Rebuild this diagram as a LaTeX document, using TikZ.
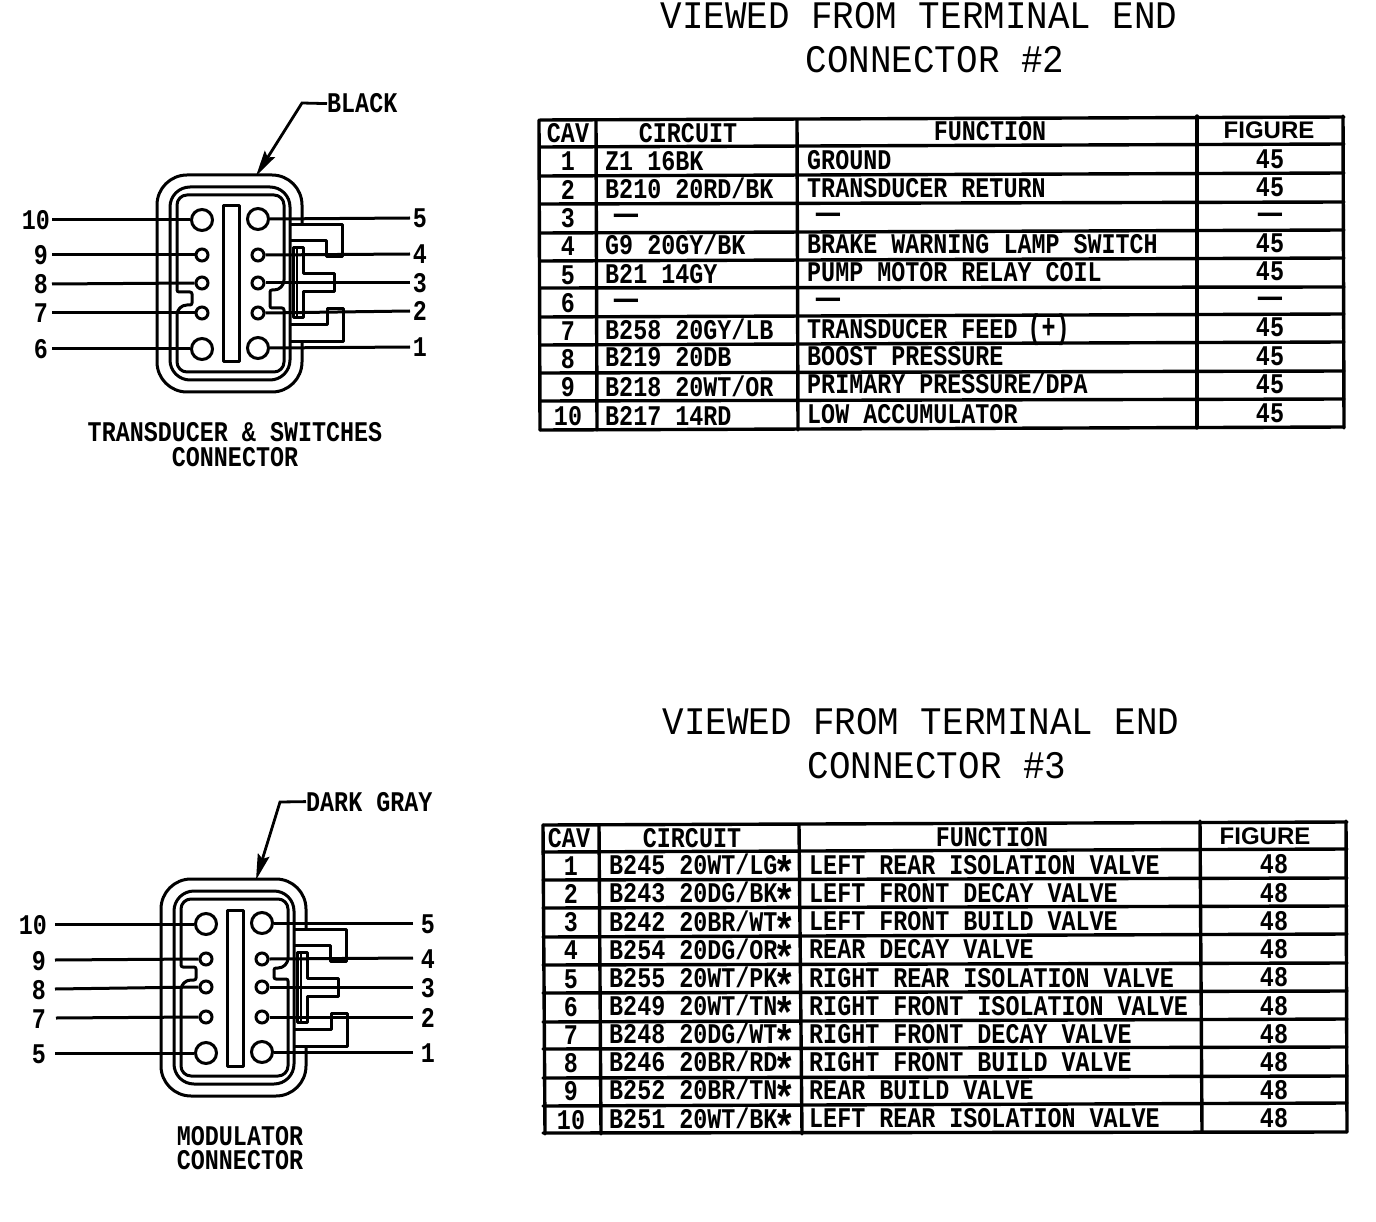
\documentclass[tikz,border=0pt]{standalone}
\usepackage{fontspec}
\usepackage{graphicx}
\usetikzlibrary{arrows.meta}
\newfontfamily\plotfam[FakeStretch=0.82]{Liberation Mono}
\newfontfamily\titlefam[FakeStretch=0.92]{Liberation Mono}
\newfontfamily\headfam{Liberation Sans}
\newcommand{\bodyfont}{\plotfam\bfseries\fontsize{28.5}{28.5}\selectfont}
\newcommand{\titlefont}{\titlefam\fontsize{39}{39}\selectfont}
\newcommand{\figfont}{\headfam\bfseries\fontsize{24}{24}\selectfont}
\newcommand{\dashmark}{\scalebox{1.7}[1.2]{—}}
\newcommand{\dashl}{\hspace*{9pt}\dashmark}
\newcommand{\st}{\makebox[14pt]{\smash{\raisebox{-0.5em}{\scalebox{1.6}{*}}}}}
\tikzset{
  wall/.style={line width=3pt,line join=round},
  tline/.style={line width=3.4pt,line cap=round},
  bodytxt/.style={font=\bodyfont,inner sep=0pt,anchor=base west},
  bodyctr/.style={font=\bodyfont,inner sep=0pt,anchor=base},
  figtxt/.style={font=\figfont,inner sep=0pt,anchor=base},
  titletxt/.style={font=\titlefont,inner sep=0pt,anchor=base},
  bigpin/.style={circle,draw,line width=3pt,minimum size=21pt,inner sep=0pt},
  smallpin/.style={circle,draw,line width=3pt,minimum size=12pt,inner sep=0pt},
  wire/.style={line width=3pt},
  lead/.style={line width=2.8pt,-{Stealth[length=26pt,width=12pt,inset=4pt]}},
}
\newcommand{\tcav}{0}\newcommand{\tcir}{0}\newcommand{\tfun}{0}\newcommand{\tfig}{0}
\newcommand{\trow}[9]{%
  \node[bodyctr] (#1cav) at (\tcav,#2+9) {#6};
  \node[bodytxt] (#1cir) at (\tcir,#3+9) {#7};
  \node[bodytxt] (#1fun) at (\tfun,#4+9) {#8};
  \node[bodyctr] (#1fig) at (\tfig,#5+10) {#9};
}
\newcommand{\connbody}[7]{%
\begin{scope}[shift={(#2,#3)}]
  \draw[wall,rounded corners=30pt] (302,224) -- (302,175) -- (157,175) -- (157,392) -- (302,392) -- (302,343);
  \draw[wall,rounded corners=20pt] (170,187) rectangle (290,380);
  \draw[wall] (177,230) [rounded corners=10pt] -- (177,195) -- (284,195) -- (284,#6) [rounded corners=2pt] -- (270,#6) -- (270,#7) -- (284,#7) [rounded corners=10pt] -- (284,372) -- (177,372) -- (177,#5) [rounded corners=2pt] -- (192,#5) -- (192,#4) -- (177,#4) [sharp corners] -- cycle;
  \draw[wall] (223,206) rectangle (239,362);
  \draw[wall] (291,225) -- (342,225) -- (342,257) -- (326,257) -- (326,241) -- (291,241);
  \draw[wall] (291,342) -- (343,342) -- (343,309) -- (327,309) -- (327,325) -- (291,325);
  \draw[wall] (293,248) -- (303,248) -- (303,274) -- (334,274) -- (334,292) -- (303,292) -- (303,318) -- (293,318) -- cycle;
  \draw[line width=2.4pt] (297,248) -- (297,318);
  \node[bigpin,fill=white] (#1p10) at (202,220) {};
  \node[smallpin,fill=white] (#1p9) at (202,255) {};
  \node[smallpin,fill=white] (#1p8) at (202,283) {};
  \node[smallpin,fill=white] (#1p7) at (202,313) {};
  \node[bigpin,fill=white] (#1p6) at (202,349) {};
  \node[bigpin,fill=white] (#1p5) at (258,219) {};
  \node[smallpin,fill=white] (#1p4) at (258,255) {};
  \node[smallpin,fill=white] (#1p3) at (258,283) {};
  \node[smallpin,fill=white] (#1p2) at (258,313) {};
  \node[bigpin,fill=white] (#1p1) at (258,348) {};
\end{scope}}
\newcommand{\pinwire}[7]{%
  \coordinate (#2e) at (#4,#5);
  \draw[wire] (#2e) -- (#1.#3);
  \node[bodyctr] (#2) at (#6,#5+10) {#7};
}
\begin{document}
\begin{tikzpicture}[x=1pt,y=-1pt]
\useasboundingbox (0,0) rectangle (1376,1222);
\fill[white] (0,0) rectangle (1376,1222);

% ===== titles =====
\node[titletxt] (t1a) at (919,29) {VIEWED FROM TERMINAL END};
\node[titletxt] (t1b) at (935,73) {CONNECTOR \#2};
\node[titletxt] (t2a) at (921,734) {VIEWED FROM TERMINAL END};
\node[titletxt] (t2b) at (937,778) {CONNECTOR \#3};

% ===== connector A =====
\connbody{a}{0}{0}{292}{305}{290}{308}
\pinwire{ap10}{al10}{west}{52}{220}{36}{10}
\pinwire{ap9}{al9}{west}{52}{255}{41}{9}
\pinwire{ap8}{al8}{west}{52}{284}{41}{8}
\pinwire{ap7}{al7}{west}{52}{313}{41}{7}
\pinwire{ap6}{al6}{west}{52}{349}{41}{6}
\pinwire{ap5}{ar5}{east}{410}{218}{420}{5}
\pinwire{ap4}{ar4}{east}{410}{254}{420}{4}
\pinwire{ap3}{ar3}{east}{410}{283}{420}{3}
\pinwire{ap2}{ar2}{east}{410}{311}{420}{2}
\pinwire{ap1}{ar1}{east}{410}{347}{420}{1}
\node[bodytxt,anchor=base west] (ablack) at (327,113) {BLACK};
\coordinate (aknee) at (302,103);
\coordinate (atip) at (256,176);
\draw[lead] (ablack.west) -- (aknee) -- (atip);
\node[bodyctr] (acap1) at (235,441) {TRANSDUCER \& SWITCHES};
\node[bodyctr] (acap2) at (235,466) {CONNECTOR};

% ===== connector B =====
\connbody{b}{4}{704}{263}{276}{264}{275}
\pinwire{bp10}{bl10}{west}{55}{924}{33}{10}
\pinwire{bp9}{bl9}{west}{55}{960}{39}{9}
\pinwire{bp8}{bl8}{west}{55}{989}{39}{8}
\pinwire{bp7}{bl7}{west}{56}{1018}{39}{7}
\pinwire{bp6}{bl5}{west}{55}{1053}{39}{5}
\pinwire{bp5}{br5}{east}{413}{923}{428}{5}
\pinwire{bp4}{br4}{east}{413}{958}{428}{4}
\pinwire{bp3}{br3}{east}{413}{987}{428}{3}
\pinwire{bp2}{br2}{east}{413}{1017}{428}{2}
\pinwire{bp1}{br1}{east}{413}{1052}{428}{1}
\node[bodytxt,anchor=base west] (bgray) at (306,811) {DARK GRAY};
\coordinate (bknee) at (280,802);
\coordinate (btip) at (256,880);
\draw[lead] (bgray.west) -- (bknee) -- (btip);
\node[bodyctr] (bcap1) at (240,1145) {MODULATOR};
\node[bodyctr] (bcap2) at (240,1169) {CONNECTOR};

% ===== table 1 grid =====
\foreach \l/\r in {120/117,147/144,176/173,204/202,233/230,261/258,288/287,317/314,345/342,373/371,401/399,430/427}
  \draw[tline] (540,\l) -- (1344,\r);
\foreach \t/\b in {539/540,596/597,797/798,1197/1197,1343/1344}
  \draw[tline] (\t,\ifdim\t pt<800pt 120\else 116\fi) -- (\b,\ifdim\t pt<800pt 430\else 428\fi);
\renewcommand{\tcav}{568}\renewcommand{\tcir}{605}\renewcommand{\tfun}{807}\renewcommand{\tfig}{1270}
\node[bodyctr] (h1cav) at (568,143) {CAV};
\node[bodyctr] (h1cir) at (688,143) {CIRCUIT};
\node[bodyctr] (h1fun) at (990,141) {FUNCTION};
\node[figtxt] (h1fig) at (1269,139) {FIGURE};
\trow{ar1}{162}{162}{161}{159}{1}{Z1 16BK}{GROUND}{45}
\trow{ar2}{191}{190}{189}{187}{2}{B210 20RD/BK}{TRANSDUCER RETURN}{45}
\trow{ar3}{219}{216}{215}{214}{3}{\dashl}{\dashl}{\dashmark}
\trow{ar4}{247}{246}{245}{243}{4}{G9 20GY/BK}{BRAKE WARNING LAMP SWITCH}{45}
\trow{ar5}{276}{275}{273}{271}{5}{B21 14GY}{PUMP MOTOR RELAY COIL}{45}
\trow{ar6}{304}{301}{300}{298}{6}{\dashl}{\dashl}{\dashmark}
\trow{ar7}{332}{331}{330}{327}{7}{B258 20GY/LB}{TRANSDUCER FEED \hspace*{-4pt}\scalebox{1}[1.2]{(+)}}{45}
\trow{ar8}{360}{358}{357}{356}{8}{B219 20DB}{BOOST PRESSURE}{45}
\trow{ar9}{388}{387}{385}{384}{9}{B218 20WT/OR}{PRIMARY PRESSURE/DPA}{45}
\trow{ar10}{416}{416}{414}{412}{10}{B217 14RD}{LOW ACCUMULATOR}{45}

% ===== table 2 grid =====
\foreach \l/\r in {825/822,852/849,880/878,908/906,937/934,965/963,993/991,1022/1019,1049/1047,1078/1076,1106/1103,1133/1132}
  \draw[tline] (543,\l) -- (1347,\r);
\foreach \t/\b in {543/545,599/601,799/802,1200/1202,1346/1347}
  \draw[tline] (\t,\ifdim\t pt<802pt 825\else 821\fi) -- (\b,\ifdim\t pt<802pt 1134\else 1132\fi);
\renewcommand{\tcav}{571}\renewcommand{\tcir}{609}\renewcommand{\tfun}{809}\renewcommand{\tfig}{1274}
\node[bodyctr] (h2cav) at (569,847) {CAV};
\node[bodyctr] (h2cir) at (692,847) {CIRCUIT};
\node[bodyctr] (h2fun) at (992,846) {FUNCTION};
\node[figtxt] (h2fig) at (1265,844) {FIGURE};
\trow{br1}{866}{865}{865}{863}{1}{B245 20WT/LG\st}{LEFT REAR ISOLATION VALVE}{48}
\trow{br2}{894}{893}{893}{892}{2}{B243 20DG/BK\st}{LEFT FRONT DECAY VALVE}{48}
\trow{br3}{922}{922}{921}{920}{3}{B242 20BR/WT\st}{LEFT FRONT BUILD VALVE}{48}
\trow{br4}{950}{950}{949}{948}{4}{B254 20DG/OR\st}{REAR DECAY VALVE}{48}
\trow{br5}{979}{978}{978}{976}{5}{B255 20WT/PK\st}{RIGHT REAR ISOLATION VALVE}{48}
\trow{br6}{1007}{1006}{1006}{1005}{6}{B249 20WT/TN\st}{RIGHT FRONT ISOLATION VALVE}{48}
\trow{br7}{1035}{1034}{1034}{1033}{7}{B248 20DG/WT\st}{RIGHT FRONT DECAY VALVE}{48}
\trow{br8}{1063}{1062}{1062}{1061}{8}{B246 20BR/RD\st}{RIGHT FRONT BUILD VALVE}{48}
\trow{br9}{1091}{1090}{1090}{1089}{9}{B252 20BR/TN\st}{REAR BUILD VALVE}{48}
\trow{br10}{1120}{1119}{1118}{1117}{10}{B251 20WT/BK\st}{LEFT REAR ISOLATION VALVE}{48}
\end{tikzpicture}
\end{document}
